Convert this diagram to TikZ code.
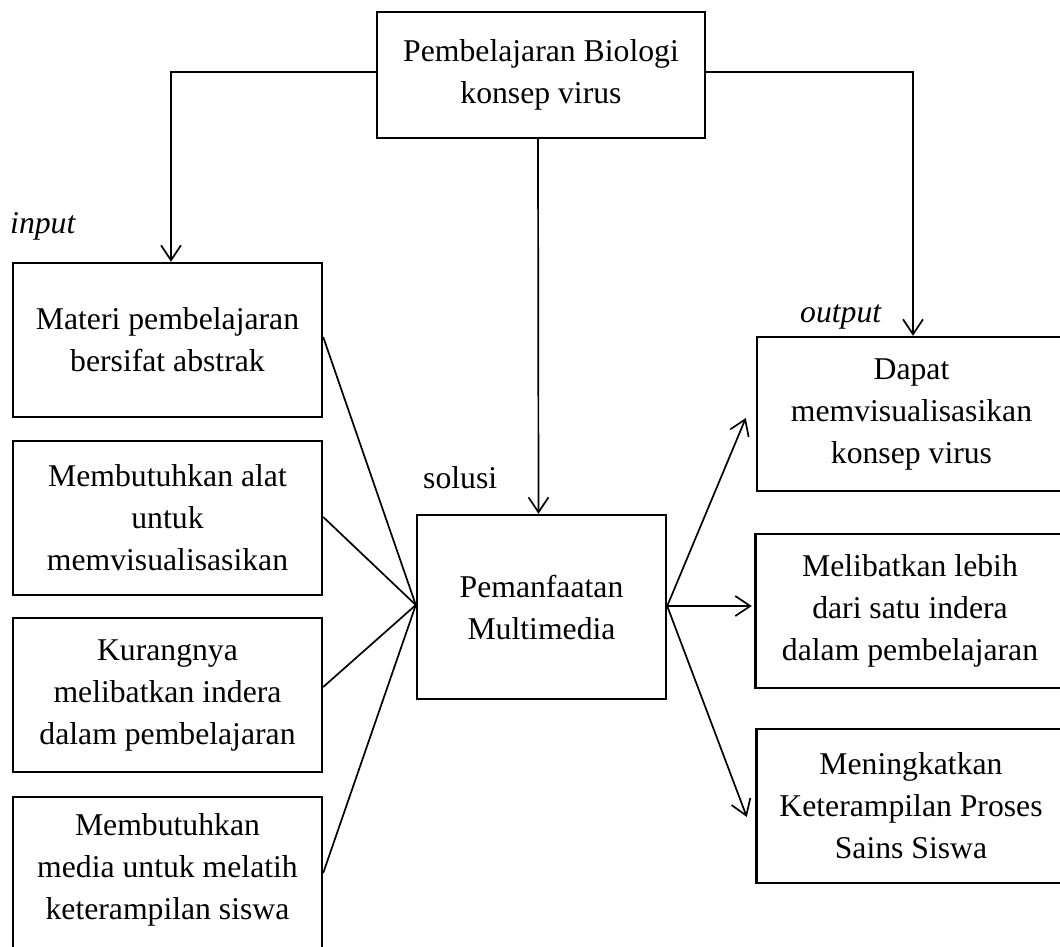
\documentclass[tikz,border=0pt]{standalone}
\usepackage{fontspec}
\setmainfont{Liberation Serif}
\usetikzlibrary{arrows.meta}
\begin{document}
\begin{tikzpicture}[x=1pt,y=-1pt,
  box/.style={draw, line width=2.4pt, align=center, inner sep=0pt,
    minimum width=309pt, minimum height=154pt, font=\fontsize{31.7}{42}\selectfont},
  txt/.style={align=center, inner sep=0pt, font=\fontsize{31.7}{42}\selectfont},
  lbl/.style={inner sep=0pt, font=\fontsize{31.7}{42}\selectfont},
  link/.style={line width=1.7pt},
  arr/.style={line width=1.7pt, -{Straight Barb[length=15pt,width=20pt,line width=1.7pt]}}]
\path[use as bounding box, clip] (0,0) rectangle (1060,947);

% top
\node[box, minimum width=328pt, minimum height=126pt] (top) at (541,75) {Pembelajaran Biologi\\konsep virus};

% inputs
\node[box] (in1) at (167.5,340) {Materi pembelajaran\\bersifat abstrak};
\node[box] (in2) at (167.5,518) {Membutuhkan alat\\untuk\\memvisualisasikan};
\node[box] (in3) at (167.5,695) {Kurangnya\\melibatkan indera\\dalam pembelajaran};
\node[box, minimum height=200pt, anchor=north] (in4) at (167.5,796) {};
\node[txt] (in4t) at (167.5,870) {Membutuhkan\\media untuk melatih\\keterampilan siswa};

% middle
\node[box, minimum width=249pt, minimum height=184pt] (mid) at (541.5,607) {Pemanfaatan\\Multimedia};

% outputs
\node[box] (dapat) at (911.5,414) {Dapat\\memvisualisasikan\\konsep virus};
\node[box] (melib) at (910,611) {Melibatkan lebih\\dari satu indera\\dalam pembelajaran};
\node[box] (ming) at (911,806) {Meningkatkan\\Keterampilan Proses\\Sains Siswa};

% labels
\node[lbl, anchor=base west] (linput) at (10,233) {\itshape input};
\node[lbl, anchor=base west] (loutput) at (800,322) {\itshape output};
\node[lbl, anchor=base west] (lsolusi) at (423,488) {solusi};

% connectors from top
\draw[arr] ([yshift=3pt]top.west) -| ([xshift=3.5pt]in1.north);
\draw[arr] ([yshift=3pt]top.east) -| ([xshift=1.5pt]dapat.north);
\draw[arr] ([xshift=-3pt]top.south) -- ([xshift=-3pt]mid.north);

% inputs to middle
\draw[link] ([yshift=3pt]in1.east) -- ([yshift=2pt]mid.west);
\draw[link] ([yshift=1pt]in2.east) -- ([yshift=2pt]mid.west);
\draw[link] ([yshift=8pt]in3.east) -- ([yshift=2pt]mid.west);
\draw[link] ([yshift=-77pt]in4.north east) -- ([yshift=2pt]mid.west);

% middle to outputs
\draw[arr] ([yshift=1pt]mid.east) -- ([xshift=-10pt,yshift=-4pt]dapat.west);
\draw[arr] ([yshift=1pt]mid.east) -- ([xshift=-2.5pt,yshift=5pt]melib.west);
\draw[arr] ([yshift=1pt]mid.east) -- ([xshift=-8.5pt,yshift=-11pt]ming.west);
\end{tikzpicture}
\end{document}
